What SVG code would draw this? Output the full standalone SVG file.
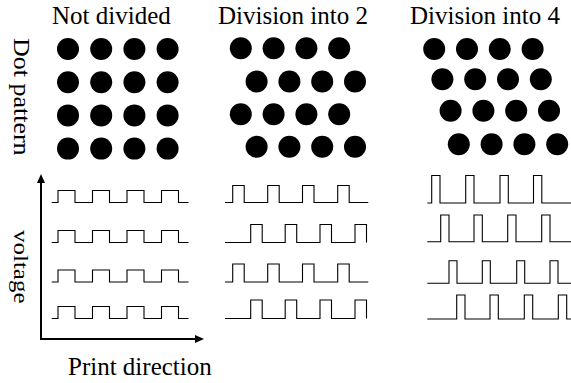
<svg xmlns="http://www.w3.org/2000/svg" width="571" height="383" viewBox="0 0 571 383">
<style>
text{font-family:"Liberation Serif","Times New Roman",serif;fill:#000}
.t{font-size:25px}
.dot{fill:#000}
.wave{fill:none;stroke:#000;stroke-width:1.1}
.axis{fill:none;stroke:#000;stroke-width:2}
</style>
<defs>
<marker id="arr" markerUnits="userSpaceOnUse" markerWidth="9" markerHeight="8" viewBox="0 0 9 8" refX="4" refY="4" orient="auto">
<path d="M0,0 L9,4 L0,8 z" fill="#000"/>
</marker>
</defs>
<rect width="571" height="383" fill="#fff"/>

<g id="title-not-divided"><text class="t" x="52" y="24">Not divided</text></g>
<g id="title-div2"><text class="t" x="218" y="24">Division into 2</text></g>
<g id="title-div4"><text class="t" x="410" y="24">Division into 4</text></g>

<g id="label-dot-pattern"><text transform="translate(14,38) rotate(90) scale(1,0.85)" font-size="26">Dot pattern</text></g>
<g id="label-voltage"><text transform="translate(14,230) rotate(90) scale(1,0.85)" font-size="25">voltage</text></g>
<g id="label-print-direction"><text class="t" x="68" y="375">Print direction</text></g>

<g id="dots-not-divided" class="dot">
<circle cx="68" cy="49" r="11"/><circle cx="101.2" cy="49" r="11"/><circle cx="134.4" cy="49" r="11"/><circle cx="167.6" cy="49" r="11"/>
<circle cx="68" cy="82.2" r="11"/><circle cx="101.2" cy="82.2" r="11"/><circle cx="134.4" cy="82.2" r="11"/><circle cx="167.6" cy="82.2" r="11"/>
<circle cx="68" cy="115.4" r="11"/><circle cx="101.2" cy="115.4" r="11"/><circle cx="134.4" cy="115.4" r="11"/><circle cx="167.6" cy="115.4" r="11"/>
<circle cx="68" cy="148.6" r="11"/><circle cx="101.2" cy="148.6" r="11"/><circle cx="134.4" cy="148.6" r="11"/><circle cx="167.6" cy="148.6" r="11"/>
</g>
<g id="dots-div2" class="dot">
<circle cx="240.8" cy="48.3" r="11"/><circle cx="273.6" cy="48.3" r="11"/><circle cx="306.4" cy="48.3" r="11"/><circle cx="339.2" cy="48.3" r="11"/>
<circle cx="256.6" cy="81.5" r="11"/><circle cx="289.4" cy="81.5" r="11"/><circle cx="322.2" cy="81.5" r="11"/><circle cx="355" cy="81.5" r="11"/>
<circle cx="240.8" cy="114.3" r="11"/><circle cx="273.6" cy="114.3" r="11"/><circle cx="306.4" cy="114.3" r="11"/><circle cx="339.2" cy="114.3" r="11"/>
<circle cx="256.6" cy="146.7" r="11"/><circle cx="289.4" cy="146.7" r="11"/><circle cx="322.2" cy="146.7" r="11"/><circle cx="355" cy="146.7" r="11"/>
</g>
<g id="dots-div4" class="dot">
<circle cx="434.2" cy="49" r="11"/><circle cx="467" cy="49" r="11"/><circle cx="499.8" cy="49" r="11"/><circle cx="532.6" cy="49" r="11"/>
<circle cx="442.4" cy="79.2" r="11"/><circle cx="475.2" cy="79.2" r="11"/><circle cx="508" cy="79.2" r="11"/><circle cx="540.8" cy="79.2" r="11"/>
<circle cx="450.6" cy="110.8" r="11"/><circle cx="483.4" cy="110.8" r="11"/><circle cx="516.2" cy="110.8" r="11"/><circle cx="549" cy="110.8" r="11"/>
<circle cx="458.8" cy="144.2" r="11"/><circle cx="491.6" cy="144.2" r="11"/><circle cx="524.4" cy="144.2" r="11"/><circle cx="557.2" cy="144.2" r="11"/>
</g>

<g id="waves-not-divided" class="wave">
<path d="M51.7,202.5 H58 V190.5 H75 V202.5 H92.5 V190.5 H109.5 V202.5 H127 V190.5 H144 V202.5 H161.5 V190.5 H178.5 V202.5 H188.5"/>
<path d="M51.7,242.5 H58 V230.5 H75 V242.5 H92.5 V230.5 H109.5 V242.5 H127 V230.5 H144 V242.5 H161.5 V230.5 H178.5 V242.5 H188.5"/>
<path d="M51.7,282 H58 V270 H75 V282 H92.5 V270 H109.5 V282 H127 V270 H144 V282 H161.5 V270 H178.5 V282 H188.5"/>
<path d="M51.7,318.5 H58 V306.5 H75 V318.5 H92.5 V306.5 H109.5 V318.5 H127 V306.5 H144 V318.5 H161.5 V306.5 H178.5 V318.5 H188.5"/>
</g>
<g id="waves-div2" class="wave">
<path d="M225,202.5 H232.7 V185.5 H244.2 V202.5 H267.7 V185.5 H279.2 V202.5 H302.5 V185.5 H314 V202.5 H337.7 V185.5 H349.2 V202.5 H368.3"/>
<path d="M225,242.5 H250.7 V224.5 H262.2 V242.5 H285.2 V224.5 H296.7 V242.5 H320 V224.5 H331.5 V242.5 H355 V224.5 H366.5 V242.5"/>
<path d="M225,282 H232.7 V264 H244.2 V282 H267.7 V264 H279.2 V282 H302.5 V264 H314 V282 H337.7 V264 H349.2 V282 H368.3"/>
<path d="M225,318.5 H250.7 V300 H262.2 V318.5 H285.2 V300 H296.7 V318.5 H320 V300 H331.5 V318.5 H355 V300 H366.5 V318.5"/>
</g>
<g id="waves-div4" class="wave">
<path d="M427.3,203 H431.7 V175.5 H440 V203 H465.7 V175.5 H474 V203 H500 V175.5 H508.3 V203 H533.5 V175.5 H541.8 V203 H571"/>
<path d="M427.3,241.7 H440.7 V215 H449 V241.7 H474 V215 H482.3 V241.7 H507.7 V215 H516 V241.7 H541.7 V215 H550 V241.7 H571"/>
<path d="M427.3,283.3 H449 V260.7 H457 V283.3 H482.3 V260.7 H490.3 V283.3 H516.7 V260.7 H524.7 V283.3 H550 V260.7 H558 V283.3 H571"/>
<path d="M427.3,319 H456.7 V295 H465 V319 H490 V295 H498.3 V319 H524.3 V295 H532.7 V319 H558.3 V295 H566.7 V319 H571"/>
</g>

<g id="connectors">
<path class="axis" d="M41,339 V179" marker-end="url(#arr)"/>
<path class="axis" d="M40,339 H199" marker-end="url(#arr)"/>
</g>
</svg>
